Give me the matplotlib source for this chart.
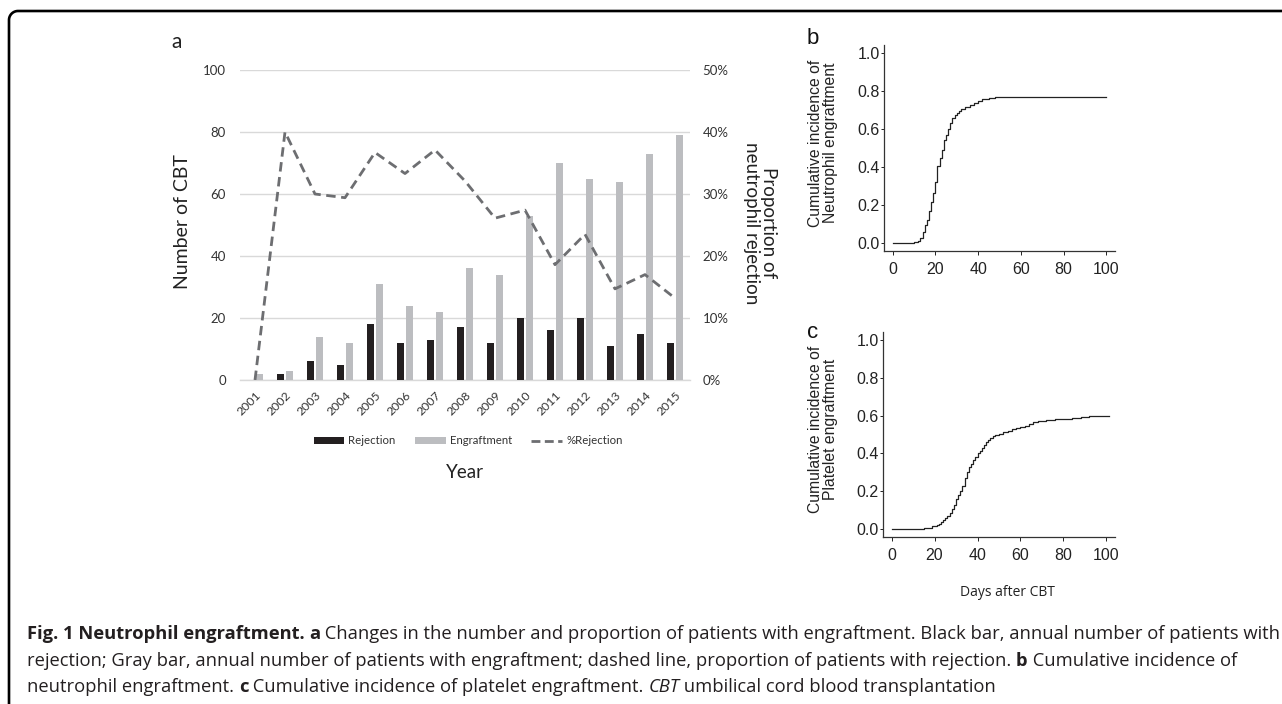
import matplotlib
matplotlib.use("Agg")
import matplotlib.pyplot as plt
from matplotlib.lines import Line2D
from matplotlib.patches import Patch
import numpy as np

# ---------------- data ----------------
years = ["2001", "2002", "2003", "2004", "2005", "2006", "2007", "2008",
         "2009", "2010", "2011", "2012", "2013", "2014", "2015"]
rejection = [0, 2, 6, 5, 18, 12, 13, 17, 12, 20, 16, 20, 11, 15, 12]
engraftment = [2, 3, 14, 12, 31, 24, 22, 36, 34, 53, 70, 65, 64, 73, 79]
pct_rejection = [0.0, 40.0, 30.0, 29.4, 36.7, 33.3, 37.1, 32.1, 26.1, 27.4,
                 18.6, 23.5, 14.7, 17.0, 13.2]

neut_days = [0, 8, 10, 12, 13, 14, 15, 16, 17, 18, 19, 20, 21, 22, 23, 24, 25,
             26, 27, 28, 29, 30, 31, 32, 34, 36, 38, 40, 42, 45, 48, 100]
neut_ci = [0, 0.003, 0.006, 0.015, 0.03, 0.06, 0.095, 0.125, 0.17, 0.215,
           0.265, 0.32, 0.405, 0.45, 0.49, 0.54, 0.57, 0.60, 0.63, 0.655,
           0.675, 0.685, 0.695, 0.705, 0.715, 0.725, 0.735, 0.745, 0.755,
           0.76, 0.765, 0.765]

plt_days = [0, 15, 17, 19, 21, 22, 23, 24, 25, 26, 27, 28, 29, 30, 31, 32, 33,
            34, 35, 36, 37, 38, 39, 40, 41, 42, 43, 44, 45, 46, 47, 48, 50,
            52, 54, 56, 58, 60, 62, 64, 66, 68, 72, 76, 80, 84, 88, 92, 101]
plt_ci = [0, 0.005, 0.01, 0.018, 0.022, 0.03, 0.04, 0.05, 0.06, 0.07, 0.085,
          0.11, 0.13, 0.16, 0.18, 0.20, 0.23, 0.27, 0.30, 0.33, 0.345, 0.365,
          0.38, 0.40, 0.415, 0.43, 0.445, 0.46, 0.47, 0.48, 0.49, 0.495,
          0.505, 0.513, 0.52, 0.53, 0.535, 0.54, 0.545, 0.555, 0.565, 0.572,
          0.577, 0.58, 0.583, 0.588, 0.593, 0.597, 0.598]

km_ticks_x = [0, 20, 40, 60, 80, 100]
km_ticks_y = [0.0, 0.2, 0.4, 0.6, 0.8, 1.0]

# ---------------- figure ----------------
W, H = 1282, 704
fig = plt.figure(figsize=(W / 100, H / 100), dpi=100)
fig.patch.set_facecolor("white")


def px_axes(x0, y0, x1, y1):
    return fig.add_axes([x0 / W, 1 - y1 / H, (x1 - x0) / W, (y1 - y0) / H])


def fx(x):
    return x / W


def fy(y):
    return 1 - y / H


# ---- frame (open rounded frame, top + left) ----
r = 9
ang = np.linspace(np.pi, np.pi / 2, 20)
cx, cy = 9 + r, 11 + r
xs = [9] + list(cx + r * np.cos(ang)) + [W + 5]
ys = [H + 5] + list(cy - r * np.sin(ang)) + [11]
fig.add_artist(Line2D([fx(v) for v in xs], [fy(v) for v in ys],
                      color="black", lw=1.9, solid_capstyle="butt"))

# ---------------- panel a ----------------
FA = "Lato"
BLACK = "#231f20"
GRAY = "#bcbdc0"
LINEC = "#6d6e71"
GRID = "#d9d9d9"

axa = px_axes(240, 70, 690, 380)
x = np.arange(len(years))
axa.bar(x - 0.14, rejection, width=0.235, color=BLACK, zorder=3)
axa.bar(x + 0.14, engraftment, width=0.235, color=GRAY, zorder=3)
axa.set_xlim(-0.5, len(years) - 0.5)
axa.set_ylim(0, 100)
axa.set_yticks([0, 20, 40, 60, 80, 100])
axa.yaxis.grid(True, color=GRID, lw=1.0)
axa.set_axisbelow(True)
for s in ["top", "right", "left"]:
    axa.spines[s].set_visible(False)
axa.spines["bottom"].set_color(GRID)
axa.spines["bottom"].set_linewidth(1.0)
axa.tick_params(axis="both", length=0, labelsize=9.5, colors="#333333")
axa.tick_params(axis="y", pad=10)
axa.tick_params(axis="x", pad=7)
axa.set_xticks(x)
axa.set_xticklabels(years, rotation=45, ha="right", rotation_mode="anchor",
                    fontsize=8.8, family=FA)
for lab in axa.get_yticklabels():
    lab.set_family(FA)

axb2 = axa.twinx()
axb2.plot(x, pct_rejection, color=LINEC, lw=2.0, ls=(0, (3.4, 2.0)), zorder=4)
axb2.set_ylim(0, 50)
axb2.set_yticks([0, 10, 20, 30, 40, 50])
axb2.set_yticklabels([f"{v}%" for v in [0, 10, 20, 30, 40, 50]],
                     family=FA, fontsize=9.5, color="#333333")
axb2.tick_params(axis="y", length=0, pad=9)
for s in ["top", "right", "left", "bottom"]:
    axb2.spines[s].set_visible(False)

fig.text(fx(182), fy(222), "Number of CBT", rotation=90, ha="center",
         va="center", fontsize=14, family=FA, color="#222222")
fig.text(fx(760), fy(223), "Proportion of\nneutrophil rejection", rotation=270,
         ha="center", va="center", fontsize=13.5, family=FA, color="#222222",
         linespacing=1.0, multialignment="center")
fig.text(fx(465), fy(473), "Year", ha="center", va="center", fontsize=13.5,
         family=FA, color="#222222")
fig.text(fx(177), fy(42), "a", ha="center", va="center", fontsize=15,
         family=FA, color="#222222")

handles = [Patch(facecolor=BLACK, edgecolor="none", label="Rejection"),
           Patch(facecolor=GRAY, edgecolor="none", label="Engraftment"),
           Line2D([0], [0], color=LINEC, lw=2.0, ls=(0, (3.2, 1.6)),
                  label="%Rejection")]
fig.legend(handles=handles, loc="center", bbox_to_anchor=(fx(468), fy(441)),
           ncol=3, frameon=False, prop={"family": FA, "size": 8.2},
           handlelength=2.7, handleheight=0.6, handletextpad=0.35,
           columnspacing=1.7, labelcolor="#333333")

# ---------------- panels b, c ----------------
FK = "Liberation Sans"


def km_panel(box, days, ci, ylab, letter, lpos, xlabel=None):
    ax = px_axes(*box)
    ax.step(days, ci, where="post", color="#222222", lw=0.9)
    ax.set_xlim(-4, 104)
    ax.set_ylim(-0.04, 1.04)
    ax.set_xticks(km_ticks_x)
    ax.set_yticks(km_ticks_y)
    ax.set_yticklabels([f"{v:.1f}" for v in km_ticks_y])
    for s in ["top", "right"]:
        ax.spines[s].set_visible(False)
    for s in ["left", "bottom"]:
        ax.spines[s].set_color("#333333")
        ax.spines[s].set_linewidth(0.9)
    ax.tick_params(axis="x", length=3, width=0.7, pad=5, labelsize=11.5,
                   colors="#222222")
    ax.tick_params(axis="y", length=2, width=0.7, pad=1, labelsize=11.5,
                   colors="#222222")
    for lab in ax.get_xticklabels() + ax.get_yticklabels():
        lab.set_family(FK)
    fig.text(fx(823), fy((box[1] + box[3]) / 2 - 5), ylab, rotation=90,
             ha="center", va="center", fontsize=11.3, family=FK,
             color="#222222", linespacing=1.05)
    fig.text(fx(lpos[0]), fy(lpos[1]), letter, ha="center", va="center",
             fontsize=16, family=FK, color="#111111")
    if xlabel:
        fig.text(fx(1007), fy(593), xlabel, ha="center", va="center",
                 fontsize=10, family="Open Sans", color="#222222")
    return ax


km_panel((884, 45, 1115, 251), neut_days, neut_ci,
         "Cumulative incidence of\nNeutrophil engraftment", "b", (813, 38))
km_panel((883, 332, 1115, 537), plt_days, plt_ci,
         "Cumulative incidence of\nPlatelet engraftment", "c", (813, 333),
         xlabel="Days after CBT")

# ---------------- caption ----------------
FC = "Open Sans"
lines = [
    [("Fig. 1 Neutrophil engraftment.", "bold", "normal"),
     (" ", "normal", "normal"), ("a", "bold", "normal"),
     (" Changes in the number and proportion of patients with engraftment. "
      "Black bar, annual number of patients with", "normal", "normal")],
    [("rejection; Gray bar, annual number of patients with engraftment; "
      "dashed line, proportion of patients with rejection. ", "normal", "normal"),
     ("b", "bold", "normal"), (" Cumulative incidence of", "normal", "normal")],
    [("neutrophil engraftment. ", "normal", "normal"), ("c", "bold", "normal"),
     (" Cumulative incidence of platelet engraftment. ", "normal", "normal"),
     ("CBT", "normal", "italic"),
     (" umbilical cord blood transplantation", "normal", "normal")],
]
baselines = [639, 666, 692]
renderer = fig.canvas.get_renderer()

# measure first line at a base size to fit the target width
base = 10.0
tot = 0
tmp = []
for txt, wgt, sty in lines[0]:
    t = fig.text(0, 0, txt, fontsize=base, fontweight=wgt, fontstyle=sty,
                 family=FC)
    tot += t.get_window_extent(renderer).width
    tmp.append(t)
for t in tmp:
    t.remove()
size = base * (1251 / tot)

for runs, by in zip(lines, baselines):
    xpos = 27
    for txt, wgt, sty in runs:
        t = fig.text(fx(xpos), fy(by), txt, fontsize=size, fontweight=wgt,
                     fontstyle=sty, family=FC, va="baseline", ha="left",
                     color="#231f20")
        xpos += t.get_window_extent(renderer).width

fig.savefig("out.png", dpi=100, facecolor="white")
